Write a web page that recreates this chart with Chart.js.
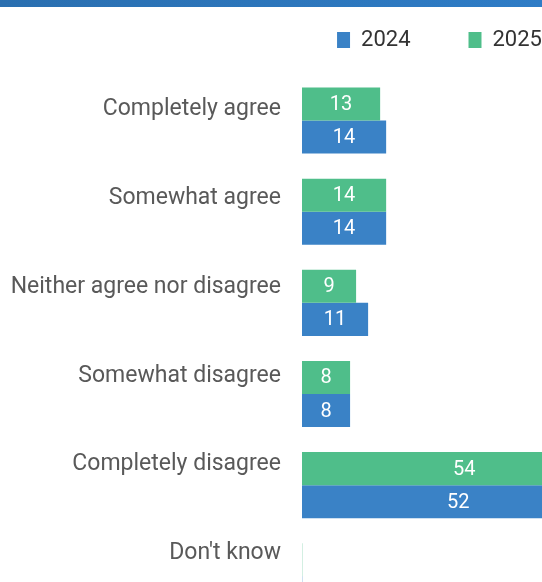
<!DOCTYPE html>
<html>
<head>
<meta charset="utf-8">
<script src="https://cdn.jsdelivr.net/npm/chart.js@4.4.1/dist/chart.umd.min.js"></script>
<style>
  html, body { margin: 0; padding: 0; background: #fff; }
  #wrap { position: relative; width: 542px; height: 582px; overflow: hidden; }
  #band { position: absolute; left: 0; top: 0; width: 100%; height: 7px;
          background: linear-gradient(90deg, #2a6fb0, #2e7cc6); z-index: 2; }
  #chart { position: absolute; left: 0; top: 0; }
</style>
</head>
<body>
<div id="wrap">
  <div id="band"></div>
  <canvas id="chart" width="879" height="623"></canvas>
</div>
<script>
const categories = [
  'Completely agree',
  'Somewhat agree',
  'Neither agree nor disagree',
  'Somewhat disagree',
  'Completely disagree',
  "Don't know"
];

const values2025 = [13, 14, 9, 8, 54, 0];
const values2024 = [14, 14, 11, 8, 52, 0];

const green = '#4fbe8a';
const blue = '#3a82c6';
const greenFaint = 'rgba(79,190,138,0.25)';
const blueFaint = 'rgba(58,130,198,0.25)';

const xMax = 96;
// the category labels sit a bit higher than the bar groups and drift slowly
const labelMin = -0.39;
const labelMax = 5.77;

Chart.defaults.font.family = 'Roboto';

// white value text in the middle of each bar
const barValues = {
  id: 'barValues',
  afterDatasetsDraw(chart) {
    const ctx = chart.ctx;
    ctx.save();
    ctx.font = '20px Roboto';
    ctx.fillStyle = '#ffffff';
    ctx.textAlign = 'center';
    ctx.textBaseline = 'middle';
    chart.data.datasets.forEach((ds, di) => {
      const meta = chart.getDatasetMeta(di);
      meta.data.forEach((bar, i) => {
        const v = ds.data[i];
        if (!v) return;
        const p = bar.getProps(['x', 'y', 'base'], true);
        ctx.fillText(String(v), (p.x + p.base) / 2, p.y + 1);
      });
    });
    ctx.restore();
  }
};

const data = {
  labels: categories,
  datasets: [{
    label: '2025',
    data: values2025,
    backgroundColor: c => c.raw === 0 ? greenFaint : green,
    minBarLength: 1
  }, {
    label: '2024',
    data: values2024,
    backgroundColor: c => c.raw === 0 ? blueFaint : blue,
    minBarLength: 1
  }]
};

const options = {
  responsive: false,
  animation: false,
  indexAxis: 'y',
  categoryPercentage: 0.725,
  barPercentage: 1,
  layout: { padding: { top: 12, left: 0, right: 0, bottom: 0 } },
  plugins: {
    tooltip: { enabled: false },
    legend: {
      position: 'top',
      labels: {
        boxWidth: 13,
        boxHeight: 16,
        padding: 17,
        color: '#333333',
        font: { size: 22 },
        generateLabels(chart) {
          const items = Chart.defaults.plugins.legend.labels.generateLabels(chart);
          const gap = { text: '', fillStyle: 'rgba(0,0,0,0)', strokeStyle: 'rgba(0,0,0,0)', lineWidth: 0 };
          items.forEach(it => { it.fillStyle = it.datasetIndex === 0 ? green : blue; });
          return [items[1], gap, items[0]];
        }
      }
    }
  },
  scales: {
    x: {
      position: 'top',
      min: 0,
      max: xMax,
      ticks: { display: false },
      grid: { display: false },
      border: { display: false },
      afterFit(s) { s.height = 14; }
    },
    y: {
      display: false
    },
    yl: {
      type: 'linear',
      position: 'left',
      reverse: true,
      offset: false,
      bounds: 'data',
      min: labelMin,
      max: labelMax,
      grid: { display: true, offset: false, drawOnChartArea: false, drawTicks: true, tickLength: 21, color: 'rgba(0,0,0,0)' },
      border: { display: false },
      ticks: {
        stepSize: 1,
        includeBounds: false,
        autoSkip: false,
        padding: 0,
        color: '#595959',
        font: { size: 23, lineHeight: 0.1 },
        callback: v => categories[v] || ''
      },
      afterBuildTicks(s) {
        s.ticks = categories.map((c, i) => ({ value: i }));
      },
      afterFit(s) { s.width = 302; }
    }
  }
};

const config = {
  type: 'bar',
  data: data,
  options: options,
  plugins: [barValues]
};

const ctx = document.getElementById('chart');
var myChart = new Chart(ctx, config);
</script>
</body>
</html>
